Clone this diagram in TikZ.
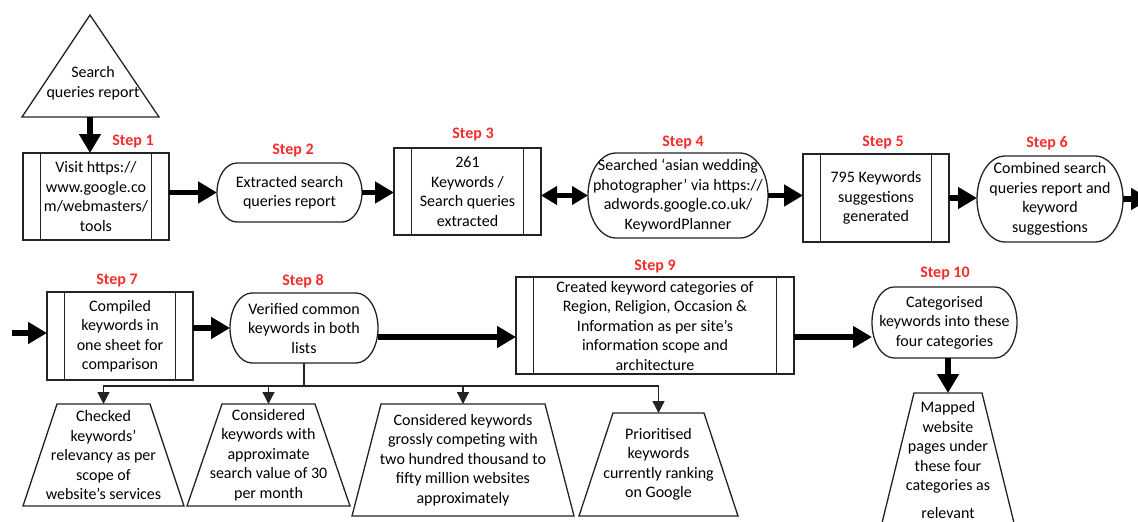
\documentclass[tikz,border=0pt]{standalone}
\usepackage{fontspec}
\setmainfont{Carlito}
\usepackage{xcolor}
\usepackage{tikz}
\usetikzlibrary{arrows.meta,positioning}

\definecolor{stepred}{RGB}{245,45,45}
\definecolor{inkline}{RGB}{35,35,35}

\newcommand{\termoutline}[3]{%
  \draw[outline] ([xshift=#2]#1.north west) -- ([xshift=-#2]#1.north east)
    arc[start angle=90, end angle=-90, x radius=#2, y radius=#3]
    -- ([xshift=#2]#1.south west)
    arc[start angle=270, end angle=90, x radius=#2, y radius=#3] -- cycle;}
\newcommand{\trapoutline}[2]{%
  \draw[outline] ([xshift=#2]#1.north west) -- ([xshift=-#2]#1.north east)
    -- (#1.south east) -- (#1.south west) -- cycle;}

\begin{document}
\begin{tikzpicture}[
  x=1pt, y=-1pt,
  every node/.style={font=\fontsize{16}{19.5}\selectfont, align=center, inner sep=0pt, outer sep=0pt},
  outline/.style={draw=inkline, line width=1.3pt},
  procbox/.style={outline},
  plain/.style={draw=none},
  steplabel/.style={text=stepred, font=\fontsize{16}{19.5}\selectfont\bfseries},
  flow/.style={line width=5.5pt, -{Triangle[length=19pt, width=21pt]}},
  twoway/.style={line width=5.5pt, {Triangle[length=16pt, width=18pt]}-{Triangle[length=16pt, width=18pt]}},
  branch/.style={draw=inkline, line width=1.3pt, -{Triangle[length=12pt, width=12pt]}}
]
\path[use as bounding box, clip] (0,0) rectangle (1138,522);

\draw[outline] (90,15) -- (159,117) -- (22,117) -- cycle;
\node[plain] (report) at (93,83) {Search\\queries report};
\coordinate (reportbase) at (90,117);

\node[procbox, minimum width=146, minimum height=87] (visit) at (96,196.5)
  {Visit https://\\www.google.co\\m/webmasters/\\tools};
\node[plain, minimum width=145, minimum height=59] (extract) at (289.5,192.5)
  {Extracted search\\queries report};
\node[procbox, minimum width=147, minimum height=87] (found) at (467.5,191.5)
  {261\\Keywords /\\Search queries\\extracted};
\node[plain, minimum width=180, minimum height=85] (planner) at (678,195.5)
  {Searched `asian wedding\\photographer' via https://\\adwords.google.co.uk/\\KeywordPlanner};
\node[procbox, minimum width=146, minimum height=88] (suggest) at (876,198)
  {795 Keywords\\suggestions\\generated};
\node[plain, minimum width=146, minimum height=86] (combine) at (1050,199)
  {Combined search\\queries report and\\keyword\\suggestions};

\node[procbox, minimum width=146, minimum height=88] (compile) at (120,336)
  {Compiled\\keywords in\\one sheet for\\comparison};
\node[plain, minimum width=148, minimum height=70] (verify) at (304,328)
  {Verified common\\keywords in both\\lists};
\node[procbox, minimum width=278, minimum height=97] (category) at (655,325.5)
  {Created keyword categories of\\Region, Religion, Occasion \&\\Information as per site's\\information scope and\\architecture};
\node[plain, minimum width=145, minimum height=71] (sorted) at (944.5,322.5)
  {Categorised\\keywords into these\\four categories};

\node[plain, minimum width=161, minimum height=102] (check) at (103.5,455)
  {Checked\\keywords'\\relevancy as per\\scope of\\website's services};
\node[plain, minimum width=163, minimum height=102] (volume) at (268.5,455)
  {Considered\\keywords with\\approximate\\search value of 30\\per month};
\node[plain, minimum width=222, minimum height=112] (compete) at (463,460)
  {Considered keywords\\grossly competing with\\two hundred thousand to\\fifty million websites\\approximately};
\node[plain, minimum width=159, minimum height=103] (rank) at (658.5,464.5)
  {Prioritised\\keywords\\currently ranking\\on Google};
\node[plain, minimum width=134, minimum height=134] (mapped) at (948,460)
  {Mapped\\website\\pages under\\these four\\categories as\\[8pt]relevant};

\foreach \b in {visit,found,suggest,compile,category}
  \draw[outline] ([xshift=17.5pt]\b.north west) -- ([xshift=17.5pt]\b.south west)
    ([xshift=-17.5pt]\b.north east) -- ([xshift=-17.5pt]\b.south east);
\termoutline{extract}{20pt}{29.5pt}
\termoutline{planner}{28pt}{42.5pt}
\termoutline{combine}{28pt}{43pt}
\termoutline{verify}{22pt}{35pt}
\termoutline{sorted}{22pt}{35.5pt}
\trapoutline{check}{34pt}
\trapoutline{volume}{35pt}
\trapoutline{compete}{29pt}
\trapoutline{rank}{34pt}
\trapoutline{mapped}{33pt}

\foreach \n/\x/\y in {1/133/142, 2/293/151, 3/473/135, 4/683/143, 5/883/143,
  6/1047/143, 7/117/281, 8/303/281, 9/655/267, 10/945/274}
  \node[steplabel] (step\n) at (\x,\y) {Step \n};

\coordinate (nextrow) at (1150,199);
\coordinate (rowstart) at (12,333);
\coordinate (fork) at ([yshift=-23pt]verify.south);

\draw[flow] (reportbase) -- (reportbase |- visit.north);
\draw[flow] (visit.east |- extract.west) -- (extract.west);
\draw[flow] (extract.east) -- (extract.east -| found.west);
\draw[twoway] (found.east |- planner.west) -- (planner.west);
\draw[flow] (planner.east) -- (planner.east -| suggest.west);
\draw[flow] (suggest.east) -- (suggest.east -| combine.west);
\draw[flow] (combine.east) -- (nextrow);
\draw[flow] (rowstart) -- (rowstart -| compile.west);
\draw[flow] (compile.east |- verify.west) -- (verify.west);
\draw[flow] ([yshift=-9pt]verify.east) -- ([yshift=-9pt]verify.east -| category.west);
\draw[flow] ([yshift=-11.5pt]category.east) -- ([yshift=-11.5pt]category.east -| sorted.west);
\draw[flow] (mapped.north |- sorted.south) -- (mapped.north);

\draw[outline] (verify.south) -- (fork);
\foreach \t in {check,volume,compete,rank}
  \draw[branch] (fork) -| (\t.north);
\end{tikzpicture}
\end{document}
